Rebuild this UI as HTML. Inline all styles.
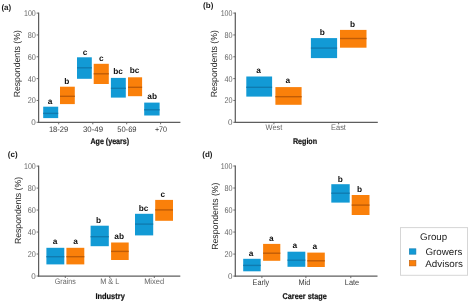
<!DOCTYPE html><html><head><meta charset="utf-8"><style>html,body{margin:0;padding:0;background:#fff;width:470px;height:303px;overflow:hidden}svg{display:block}#w{will-change:transform}text{font-family:"Liberation Sans",sans-serif;text-rendering:geometricPrecision}</style></head><body>
<div id="w"><svg width="470" height="303" viewBox="0 0 470 303">
<rect width="470" height="303" fill="#fff"/>
<rect x="43.2" y="106.7" width="15" height="11.4" fill="#129ad5"/>
<line x1="43.2" x2="58.2" y1="113.4" y2="113.4" stroke="#0f7bb0" stroke-width="1.4"/>
<text x="50" y="104.3" font-size="8.3" font-weight="bold" fill="#111" text-anchor="middle">a</text>
<rect x="60" y="86.7" width="14.8" height="17.4" fill="#fa800a"/>
<line x1="60" x2="74.8" y1="96.3" y2="96.3" stroke="#c05c06" stroke-width="1.4"/>
<text x="66.7" y="84.3" font-size="8.3" font-weight="bold" fill="#111" text-anchor="middle">b</text>
<rect x="77" y="57.3" width="14.8" height="21.5" fill="#129ad5"/>
<line x1="77" x2="91.8" y1="67.8" y2="67.8" stroke="#0f7bb0" stroke-width="1.4"/>
<text x="85" y="55" font-size="8.3" font-weight="bold" fill="#111" text-anchor="middle">c</text>
<rect x="93.7" y="63.8" width="15.1" height="20.2" fill="#fa800a"/>
<line x1="93.7" x2="108.8" y1="73.8" y2="73.8" stroke="#c05c06" stroke-width="1.4"/>
<text x="101.2" y="61" font-size="8.3" font-weight="bold" fill="#111" text-anchor="middle">c</text>
<rect x="110.9" y="77.9" width="14.9" height="19.7" fill="#129ad5"/>
<line x1="110.9" x2="125.8" y1="88.3" y2="88.3" stroke="#0f7bb0" stroke-width="1.4"/>
<text x="118.1" y="73.9" font-size="8.3" font-weight="bold" fill="#111" text-anchor="middle">bc</text>
<rect x="128" y="77.3" width="14.1" height="18.9" fill="#fa800a"/>
<line x1="128" x2="142.1" y1="87.3" y2="87.3" stroke="#c05c06" stroke-width="1.4"/>
<text x="134.5" y="73.2" font-size="8.3" font-weight="bold" fill="#111" text-anchor="middle">bc</text>
<rect x="144.2" y="102.6" width="15.4" height="12.9" fill="#129ad5"/>
<line x1="144.2" x2="159.6" y1="109.8" y2="109.8" stroke="#0f7bb0" stroke-width="1.4"/>
<text x="152.2" y="99.2" font-size="8.3" font-weight="bold" fill="#111" text-anchor="middle">ab</text>
<line x1="38.6" x2="38.6" y1="12.6" y2="122.9" stroke="#5e5e5e" stroke-width="1.25"/>
<line x1="38.05" x2="180.4" y1="122.3" y2="122.3" stroke="#5e5e5e" stroke-width="1.25"/>
<line x1="36.6" x2="38.6" y1="122.3" y2="122.3" stroke="#5e5e5e" stroke-width="0.9"/>
<text x="35.8" y="125.3" font-size="8.3" fill="#666666" text-anchor="end" textLength="4.5" lengthAdjust="spacingAndGlyphs">0</text>
<line x1="36.6" x2="38.6" y1="100.46" y2="100.46" stroke="#5e5e5e" stroke-width="0.9"/>
<text x="35.8" y="103.46" font-size="8.3" fill="#666666" text-anchor="end" textLength="8.1" lengthAdjust="spacingAndGlyphs">20</text>
<line x1="36.6" x2="38.6" y1="78.62" y2="78.62" stroke="#5e5e5e" stroke-width="0.9"/>
<text x="35.8" y="81.62" font-size="8.3" fill="#666666" text-anchor="end" textLength="8.1" lengthAdjust="spacingAndGlyphs">40</text>
<line x1="36.6" x2="38.6" y1="56.78" y2="56.78" stroke="#5e5e5e" stroke-width="0.9"/>
<text x="35.8" y="59.78" font-size="8.3" fill="#666666" text-anchor="end" textLength="8.1" lengthAdjust="spacingAndGlyphs">60</text>
<line x1="36.6" x2="38.6" y1="34.94" y2="34.94" stroke="#5e5e5e" stroke-width="0.9"/>
<text x="35.8" y="37.94" font-size="8.3" fill="#666666" text-anchor="end" textLength="8.1" lengthAdjust="spacingAndGlyphs">80</text>
<line x1="36.6" x2="38.6" y1="13.1" y2="13.1" stroke="#5e5e5e" stroke-width="0.9"/>
<text x="35.8" y="16.1" font-size="8.3" fill="#666666" text-anchor="end" textLength="11.8" lengthAdjust="spacingAndGlyphs">100</text>
<line x1="58.7" x2="58.7" y1="122.3" y2="124.3" stroke="#5e5e5e" stroke-width="0.9"/>
<text x="58.6" y="131.8" font-size="8.0" fill="#3a3a3a" text-anchor="middle" textLength="19.4" lengthAdjust="spacingAndGlyphs">18-29</text>
<line x1="92.8" x2="92.8" y1="122.3" y2="124.3" stroke="#5e5e5e" stroke-width="0.9"/>
<text x="93" y="131.8" font-size="8.0" fill="#3a3a3a" text-anchor="middle" textLength="20.0" lengthAdjust="spacingAndGlyphs">30-49</text>
<line x1="126.7" x2="126.7" y1="122.3" y2="124.3" stroke="#5e5e5e" stroke-width="0.9"/>
<text x="126.9" y="131.8" font-size="8.0" fill="#3a3a3a" text-anchor="middle" textLength="19.4" lengthAdjust="spacingAndGlyphs">50-69</text>
<line x1="160.6" x2="160.6" y1="122.3" y2="124.3" stroke="#5e5e5e" stroke-width="0.9"/>
<text x="161" y="131.8" font-size="8.0" fill="#3a3a3a" text-anchor="middle" textLength="12.1" lengthAdjust="spacingAndGlyphs">+70</text>
<text x="109.8" y="143.6" font-size="8.4" font-weight="bold" fill="#111" stroke="#111" stroke-width="0.2" text-anchor="middle" textLength="38.7" lengthAdjust="spacingAndGlyphs">Age (years)</text>
<text x="0" y="0" transform="translate(20.2,63.75) rotate(-90)" font-size="8.9" fill="#1e1e1e" text-anchor="middle" textLength="67.2" lengthAdjust="spacingAndGlyphs">Respondents (%)</text>
<text x="1.4" y="9.7" font-size="8.0" font-weight="bold" fill="#1a1a1a">(a)</text>
<rect x="246.3" y="76.5" width="25.8" height="20.1" fill="#129ad5"/>
<line x1="246.3" x2="272.1" y1="87.3" y2="87.3" stroke="#0f7bb0" stroke-width="1.4"/>
<text x="258.6" y="72.9" font-size="8.3" font-weight="bold" fill="#111" text-anchor="middle">a</text>
<rect x="275.4" y="87.1" width="26.2" height="17.7" fill="#fa800a"/>
<line x1="275.4" x2="301.6" y1="96.7" y2="96.7" stroke="#c05c06" stroke-width="1.4"/>
<text x="287.8" y="83.2" font-size="8.3" font-weight="bold" fill="#111" text-anchor="middle">a</text>
<rect x="310.9" y="38.1" width="26.2" height="20" fill="#129ad5"/>
<line x1="310.9" x2="337.1" y1="48.1" y2="48.1" stroke="#0f7bb0" stroke-width="1.4"/>
<text x="322.4" y="34.7" font-size="8.3" font-weight="bold" fill="#111" text-anchor="middle">b</text>
<rect x="340" y="29.9" width="26.5" height="17.8" fill="#fa800a"/>
<line x1="340" x2="366.5" y1="38.5" y2="38.5" stroke="#c05c06" stroke-width="1.4"/>
<text x="352.5" y="26.8" font-size="8.3" font-weight="bold" fill="#111" text-anchor="middle">b</text>
<line x1="235.3" x2="235.3" y1="12.6" y2="122.9" stroke="#5e5e5e" stroke-width="1.25"/>
<line x1="234.75" x2="377.8" y1="122.3" y2="122.3" stroke="#5e5e5e" stroke-width="1.25"/>
<line x1="233.3" x2="235.3" y1="122.3" y2="122.3" stroke="#5e5e5e" stroke-width="0.9"/>
<text x="232.5" y="125.3" font-size="8.3" fill="#666666" text-anchor="end" textLength="4.5" lengthAdjust="spacingAndGlyphs">0</text>
<line x1="233.3" x2="235.3" y1="100.46" y2="100.46" stroke="#5e5e5e" stroke-width="0.9"/>
<text x="232.5" y="103.46" font-size="8.3" fill="#666666" text-anchor="end" textLength="8.1" lengthAdjust="spacingAndGlyphs">20</text>
<line x1="233.3" x2="235.3" y1="78.62" y2="78.62" stroke="#5e5e5e" stroke-width="0.9"/>
<text x="232.5" y="81.62" font-size="8.3" fill="#666666" text-anchor="end" textLength="8.1" lengthAdjust="spacingAndGlyphs">40</text>
<line x1="233.3" x2="235.3" y1="56.78" y2="56.78" stroke="#5e5e5e" stroke-width="0.9"/>
<text x="232.5" y="59.78" font-size="8.3" fill="#666666" text-anchor="end" textLength="8.1" lengthAdjust="spacingAndGlyphs">60</text>
<line x1="233.3" x2="235.3" y1="34.94" y2="34.94" stroke="#5e5e5e" stroke-width="0.9"/>
<text x="232.5" y="37.94" font-size="8.3" fill="#666666" text-anchor="end" textLength="8.1" lengthAdjust="spacingAndGlyphs">80</text>
<line x1="233.3" x2="235.3" y1="13.1" y2="13.1" stroke="#5e5e5e" stroke-width="0.9"/>
<text x="232.5" y="16.1" font-size="8.3" fill="#666666" text-anchor="end" textLength="11.8" lengthAdjust="spacingAndGlyphs">100</text>
<line x1="273.9" x2="273.9" y1="122.3" y2="124.3" stroke="#5e5e5e" stroke-width="0.9"/>
<text x="273.9" y="130.1" font-size="8.0" fill="#666666" text-anchor="middle" textLength="16.7" lengthAdjust="spacingAndGlyphs">West</text>
<line x1="338.6" x2="338.6" y1="122.3" y2="124.3" stroke="#5e5e5e" stroke-width="0.9"/>
<text x="338.5" y="130.1" font-size="8.0" fill="#666666" text-anchor="middle" textLength="14.8" lengthAdjust="spacingAndGlyphs">East</text>
<text x="305" y="144.1" font-size="8.4" font-weight="bold" fill="#111" stroke="#111" stroke-width="0.2" text-anchor="middle" textLength="24.2" lengthAdjust="spacingAndGlyphs">Region</text>
<text x="0" y="0" transform="translate(217.2,63.75) rotate(-90)" font-size="8.9" fill="#1e1e1e" text-anchor="middle" textLength="67.2" lengthAdjust="spacingAndGlyphs">Respondents (%)</text>
<text x="203.1" y="7.7" font-size="8.0" font-weight="bold" fill="#1a1a1a">(b)</text>
<rect x="46.4" y="247.8" width="17.9" height="16.6" fill="#129ad5"/>
<line x1="46.4" x2="64.3" y1="256.7" y2="256.7" stroke="#0f7bb0" stroke-width="1.4"/>
<text x="55" y="244.4" font-size="8.3" font-weight="bold" fill="#111" text-anchor="middle">a</text>
<rect x="66.4" y="247.8" width="17.9" height="16.6" fill="#fa800a"/>
<line x1="66.4" x2="84.3" y1="256.7" y2="256.7" stroke="#c05c06" stroke-width="1.4"/>
<text x="75.5" y="244.4" font-size="8.3" font-weight="bold" fill="#111" text-anchor="middle">a</text>
<rect x="90.6" y="225.7" width="18.2" height="20.5" fill="#129ad5"/>
<line x1="90.6" x2="108.8" y1="236.7" y2="236.7" stroke="#0f7bb0" stroke-width="1.4"/>
<text x="98.5" y="223.3" font-size="8.3" font-weight="bold" fill="#111" text-anchor="middle">b</text>
<rect x="111.1" y="242.5" width="17.6" height="17.5" fill="#fa800a"/>
<line x1="111.1" x2="128.7" y1="251.4" y2="251.4" stroke="#c05c06" stroke-width="1.4"/>
<text x="119.2" y="239.3" font-size="8.3" font-weight="bold" fill="#111" text-anchor="middle">ab</text>
<rect x="135" y="213.8" width="18.2" height="21.6" fill="#129ad5"/>
<line x1="135" x2="153.2" y1="224.1" y2="224.1" stroke="#0f7bb0" stroke-width="1.4"/>
<text x="143.5" y="210.7" font-size="8.3" font-weight="bold" fill="#111" text-anchor="middle">bc</text>
<rect x="155.2" y="199.9" width="17.8" height="20.9" fill="#fa800a"/>
<line x1="155.2" x2="173" y1="209.9" y2="209.9" stroke="#c05c06" stroke-width="1.4"/>
<text x="162.7" y="196.9" font-size="8.3" font-weight="bold" fill="#111" text-anchor="middle">c</text>
<line x1="38.6" x2="38.6" y1="165.6" y2="276.6" stroke="#5e5e5e" stroke-width="1.25"/>
<line x1="38.05" x2="180.3" y1="276" y2="276" stroke="#5e5e5e" stroke-width="1.25"/>
<line x1="36.6" x2="38.6" y1="276" y2="276" stroke="#5e5e5e" stroke-width="0.9"/>
<text x="35.8" y="279" font-size="8.3" fill="#666666" text-anchor="end" textLength="4.5" lengthAdjust="spacingAndGlyphs">0</text>
<line x1="36.6" x2="38.6" y1="254.02" y2="254.02" stroke="#5e5e5e" stroke-width="0.9"/>
<text x="35.8" y="257.02" font-size="8.3" fill="#666666" text-anchor="end" textLength="8.1" lengthAdjust="spacingAndGlyphs">20</text>
<line x1="36.6" x2="38.6" y1="232.04" y2="232.04" stroke="#5e5e5e" stroke-width="0.9"/>
<text x="35.8" y="235.04" font-size="8.3" fill="#666666" text-anchor="end" textLength="8.1" lengthAdjust="spacingAndGlyphs">40</text>
<line x1="36.6" x2="38.6" y1="210.06" y2="210.06" stroke="#5e5e5e" stroke-width="0.9"/>
<text x="35.8" y="213.06" font-size="8.3" fill="#666666" text-anchor="end" textLength="8.1" lengthAdjust="spacingAndGlyphs">60</text>
<line x1="36.6" x2="38.6" y1="188.08" y2="188.08" stroke="#5e5e5e" stroke-width="0.9"/>
<text x="35.8" y="191.08" font-size="8.3" fill="#666666" text-anchor="end" textLength="8.1" lengthAdjust="spacingAndGlyphs">80</text>
<line x1="36.6" x2="38.6" y1="166.1" y2="166.1" stroke="#5e5e5e" stroke-width="0.9"/>
<text x="35.8" y="169.1" font-size="8.3" fill="#666666" text-anchor="end" textLength="11.8" lengthAdjust="spacingAndGlyphs">100</text>
<line x1="65.3" x2="65.3" y1="276" y2="278" stroke="#5e5e5e" stroke-width="0.9"/>
<text x="65.3" y="283.6" font-size="8.0" fill="#666666" text-anchor="middle" textLength="20.9" lengthAdjust="spacingAndGlyphs">Grains</text>
<line x1="109.8" x2="109.8" y1="276" y2="278" stroke="#5e5e5e" stroke-width="0.9"/>
<text x="109.8" y="283.6" font-size="8.0" fill="#666666" text-anchor="middle" textLength="19.2" lengthAdjust="spacingAndGlyphs">M &amp; L</text>
<line x1="154.3" x2="154.3" y1="276" y2="278" stroke="#5e5e5e" stroke-width="0.9"/>
<text x="154.1" y="283.6" font-size="8.0" fill="#666666" text-anchor="middle" textLength="19.9" lengthAdjust="spacingAndGlyphs">Mixed</text>
<text x="110.1" y="298.6" font-size="8.4" font-weight="bold" fill="#111" stroke="#111" stroke-width="0.2" text-anchor="middle" textLength="29.4" lengthAdjust="spacingAndGlyphs">Industry</text>
<text x="0" y="0" transform="translate(20.7,210.5) rotate(-90)" font-size="8.9" fill="#1e1e1e" text-anchor="middle" textLength="67.2" lengthAdjust="spacingAndGlyphs">Respondents (%)</text>
<text x="7.8" y="157.1" font-size="8.0" font-weight="bold" fill="#1a1a1a">(c)</text>
<rect x="243.2" y="258.8" width="17.5" height="12.5" fill="#129ad5"/>
<line x1="243.2" x2="260.7" y1="265.4" y2="265.4" stroke="#0f7bb0" stroke-width="1.4"/>
<text x="251" y="255.7" font-size="8.3" font-weight="bold" fill="#111" text-anchor="middle">a</text>
<rect x="263.1" y="243.9" width="17.2" height="16.9" fill="#fa800a"/>
<line x1="263.1" x2="280.3" y1="253.2" y2="253.2" stroke="#c05c06" stroke-width="1.4"/>
<text x="271.3" y="240.5" font-size="8.3" font-weight="bold" fill="#111" text-anchor="middle">a</text>
<rect x="287.5" y="251.7" width="17.8" height="15.1" fill="#129ad5"/>
<line x1="287.5" x2="305.3" y1="260.2" y2="260.2" stroke="#0f7bb0" stroke-width="1.4"/>
<text x="294.9" y="248.3" font-size="8.3" font-weight="bold" fill="#111" text-anchor="middle">a</text>
<rect x="307.3" y="252.6" width="17.5" height="14.4" fill="#fa800a"/>
<line x1="307.3" x2="324.8" y1="260.8" y2="260.8" stroke="#c05c06" stroke-width="1.4"/>
<text x="314.7" y="249.3" font-size="8.3" font-weight="bold" fill="#111" text-anchor="middle">a</text>
<rect x="331.3" y="184.2" width="18.4" height="18.4" fill="#129ad5"/>
<line x1="331.3" x2="349.7" y1="193.2" y2="193.2" stroke="#0f7bb0" stroke-width="1.4"/>
<text x="340.2" y="181.7" font-size="8.3" font-weight="bold" fill="#111" text-anchor="middle">b</text>
<rect x="351.7" y="195" width="17.8" height="20" fill="#fa800a"/>
<line x1="351.7" x2="369.5" y1="205.1" y2="205.1" stroke="#c05c06" stroke-width="1.4"/>
<text x="359.6" y="191.6" font-size="8.3" font-weight="bold" fill="#111" text-anchor="middle">b</text>
<line x1="235.3" x2="235.3" y1="165.5" y2="276.7" stroke="#5e5e5e" stroke-width="1.25"/>
<line x1="234.75" x2="377.5" y1="276.1" y2="276.1" stroke="#5e5e5e" stroke-width="1.25"/>
<line x1="233.3" x2="235.3" y1="276.1" y2="276.1" stroke="#5e5e5e" stroke-width="0.9"/>
<text x="232.5" y="279.1" font-size="8.3" fill="#666666" text-anchor="end" textLength="4.5" lengthAdjust="spacingAndGlyphs">0</text>
<line x1="233.3" x2="235.3" y1="254.08" y2="254.08" stroke="#5e5e5e" stroke-width="0.9"/>
<text x="232.5" y="257.08" font-size="8.3" fill="#666666" text-anchor="end" textLength="8.1" lengthAdjust="spacingAndGlyphs">20</text>
<line x1="233.3" x2="235.3" y1="232.06" y2="232.06" stroke="#5e5e5e" stroke-width="0.9"/>
<text x="232.5" y="235.06" font-size="8.3" fill="#666666" text-anchor="end" textLength="8.1" lengthAdjust="spacingAndGlyphs">40</text>
<line x1="233.3" x2="235.3" y1="210.04" y2="210.04" stroke="#5e5e5e" stroke-width="0.9"/>
<text x="232.5" y="213.04" font-size="8.3" fill="#666666" text-anchor="end" textLength="8.1" lengthAdjust="spacingAndGlyphs">60</text>
<line x1="233.3" x2="235.3" y1="188.02" y2="188.02" stroke="#5e5e5e" stroke-width="0.9"/>
<text x="232.5" y="191.02" font-size="8.3" fill="#666666" text-anchor="end" textLength="8.1" lengthAdjust="spacingAndGlyphs">80</text>
<line x1="233.3" x2="235.3" y1="166" y2="166" stroke="#5e5e5e" stroke-width="0.9"/>
<text x="232.5" y="169" font-size="8.3" fill="#666666" text-anchor="end" textLength="11.8" lengthAdjust="spacingAndGlyphs">100</text>
<line x1="261.9" x2="261.9" y1="276.1" y2="278.1" stroke="#5e5e5e" stroke-width="0.9"/>
<text x="260.9" y="285" font-size="8.0" fill="#3a3a3a" text-anchor="middle" textLength="16.6" lengthAdjust="spacingAndGlyphs">Early</text>
<line x1="305.9" x2="305.9" y1="276.1" y2="278.1" stroke="#5e5e5e" stroke-width="0.9"/>
<text x="304.5" y="285" font-size="8.0" fill="#3a3a3a" text-anchor="middle" textLength="11.9" lengthAdjust="spacingAndGlyphs">Mid</text>
<line x1="350.8" x2="350.8" y1="276.1" y2="278.1" stroke="#5e5e5e" stroke-width="0.9"/>
<text x="352" y="285" font-size="8.0" fill="#3a3a3a" text-anchor="middle" textLength="14.4" lengthAdjust="spacingAndGlyphs">Late</text>
<text x="304.6" y="298.5" font-size="8.4" font-weight="bold" fill="#111" stroke="#111" stroke-width="0.2" text-anchor="middle" textLength="44.2" lengthAdjust="spacingAndGlyphs">Career stage</text>
<text x="0" y="0" transform="translate(217.7,216.15) rotate(-90)" font-size="8.9" fill="#1e1e1e" text-anchor="middle" textLength="67.2" lengthAdjust="spacingAndGlyphs">Respondents (%)</text>
<text x="202.3" y="156.7" font-size="8.0" font-weight="bold" fill="#1a1a1a">(d)</text>
<rect x="400.5" y="227.6" width="67" height="47.7" fill="#fff" stroke="#d6d6d6" stroke-width="1"/>
<text x="420.1" y="239.6" font-size="9.6" fill="#222" textLength="27.1" lengthAdjust="spacingAndGlyphs">Group</text>
<rect x="409.3" y="248.8" width="6.6" height="5.4" fill="#129ad5" stroke="#0f7bb0" stroke-width="0.6"/>
<rect x="409.3" y="260.5" width="6.6" height="5.4" fill="#fa800a" stroke="#c05c06" stroke-width="0.6"/>
<text x="425.5" y="255" font-size="9.6" fill="#222" textLength="36.9" lengthAdjust="spacingAndGlyphs">Growers</text>
<text x="425.3" y="266.7" font-size="9.6" fill="#222" textLength="37.7" lengthAdjust="spacingAndGlyphs">Advisors</text>
</svg></div></body></html>
